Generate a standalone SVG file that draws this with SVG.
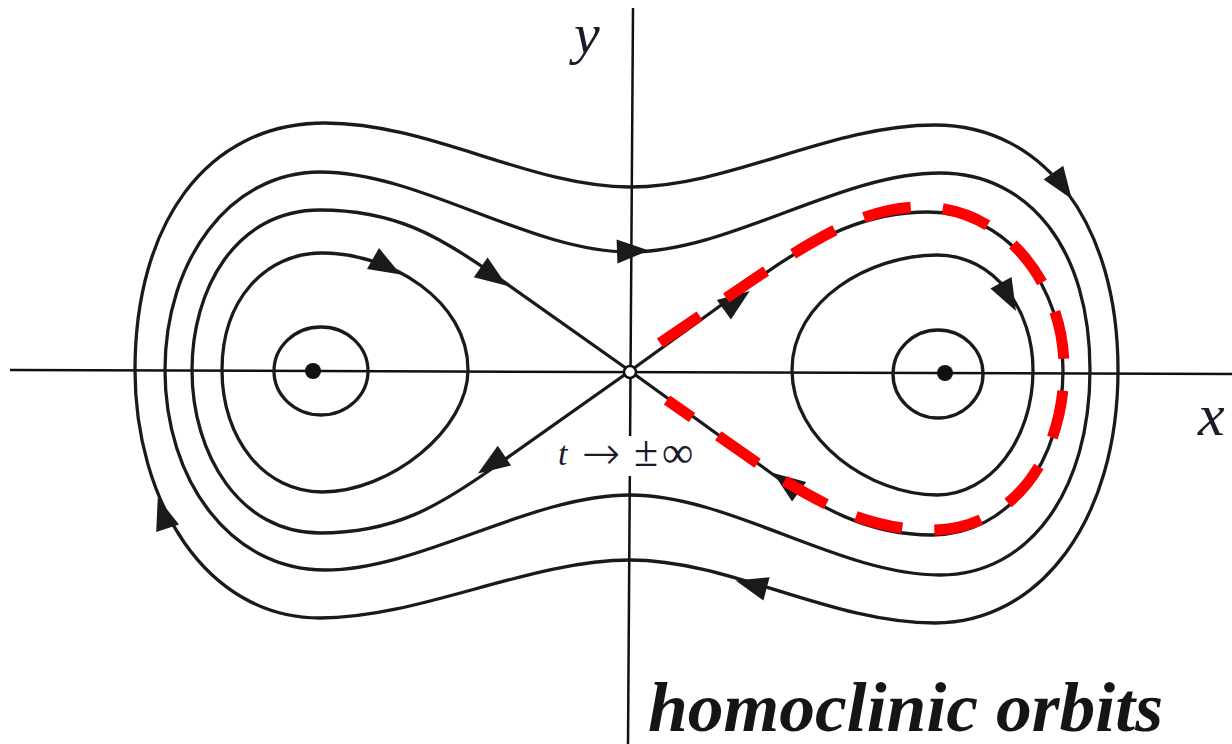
<svg xmlns="http://www.w3.org/2000/svg" xmlns:xlink="http://www.w3.org/1999/xlink" width="1232" height="744" viewBox="0 0 1232 744">
<defs>
<style>
.axis{stroke:#111;stroke-width:2.5;fill:none}
.orbit{stroke:#1a1a1a;stroke-width:3.3;fill:none}
.ah{fill:#1a1a1a}
.red{stroke:#ff0000;stroke-width:11;fill:none;stroke-dasharray:48 32}
.math{font-family:"Liberation Serif","DejaVu Serif",serif;fill:#1a1a2a}
.title{font-family:"Liberation Serif","Times New Roman",serif;font-style:italic;font-weight:bold;fill:#151515}
</style>
<path id="arrowhead" d="M 17 0 L -15 -12 L -15 12 Z"/>
</defs>
<rect width="1232" height="744" fill="#ffffff"/>
<g id="axes">
<line class="axis" x1="10" y1="370" x2="1232" y2="374"/>
<line class="axis" x1="633" y1="8" x2="628" y2="744"/>
</g>
<g id="connectors">
<path id="orbit-outer" class="orbit" d="M 630 187 C 730 187 830 125 935 125 C 1045 125 1118 225 1118 370 C 1118 520 1040 623 935 623 C 830 623 730 560 630 560 C 530 560 420 618 320 618 C 205 618 135 500 135 370 C 135 225 205 123 325 123 C 430 123 530 187 630 187 Z"/>
<path id="orbit-second" class="orbit" d="M 630 252 C 730 252 840 173 940 173 C 1030 173 1090 250 1090 370 C 1090 490 1030 575 940 575 C 840 575 730 495 630 495 C 530 495 420 570 325 570 C 230 570 165 480 165 370 C 165 260 230 172 320 172 C 420 172 530 252 630 252 Z"/>
<path id="separatrix-left" class="orbit" d="M 630 371 L 490 272 C 440 237 395 210 320 210 C 235 210 192 290 192 370 C 192 455 240 533 320 533 C 395 533 440 505 490 470 L 630 371"/>
<path id="separatrix-right" class="orbit" d="M 630 371 L 760 277 C 820 234 870 212 928 212 C 1010 212 1063 290 1063 370 C 1063 460 1010 535 932 535 C 870 535 820 510 760 465 L 630 371"/>
<path id="loop-left" class="orbit" d="M 222 370 C 222 300 265 253 322 253 C 390 253 468 300 468 370 C 468 430 390 492 322 492 C 265 492 222 440 222 370 Z"/>
<path id="loop-right" class="orbit" d="M 792 370 C 792 300 870 255 937 255 C 995 255 1033 310 1033 370 C 1033 440 990 495 937 495 C 870 495 792 440 792 370 Z"/>
</g>
<g id="arrows">
<use xlink:href="#arrowhead" class="ah" transform="translate(386,266) rotate(30)"/>
<use xlink:href="#arrowhead" class="ah" transform="translate(493,276) rotate(35)"/>
<use xlink:href="#arrowhead" class="ah" transform="translate(632,251) rotate(-2)"/>
<use xlink:href="#arrowhead" class="ah" transform="translate(1062,185) rotate(55)"/>
<use xlink:href="#arrowhead" class="ah" transform="translate(1008,296) rotate(62)"/>
<use xlink:href="#arrowhead" class="ah" transform="translate(736,301) rotate(-36)"/>
<use xlink:href="#arrowhead" class="ah" transform="translate(492,464) rotate(146)"/>
<use xlink:href="#arrowhead" class="ah" transform="translate(787,483) rotate(216)"/>
<use xlink:href="#arrowhead" class="ah" transform="translate(752,585) rotate(195)"/>
<use xlink:href="#arrowhead" class="ah" transform="translate(163,514) rotate(-108)"/>
</g>
<g id="homoclinic">
<path class="red" d="M 660 343 L 760 275 C 820 236 870 205 925 207 C 1010 210 1065 290 1064 370 C 1063 460 1010 530 932 530 C 870 530 820 505 760 465 L 667 400"/>
</g>
<g id="saddle">
<circle cx="630" cy="372" r="6" fill="#fff" stroke="#111" stroke-width="2.5"/>
</g>
<g id="center-left">
<ellipse cx="321" cy="371" rx="47" ry="44" class="orbit"/>
<circle cx="313" cy="371" r="8" fill="#111"/>
</g>
<g id="center-right">
<ellipse cx="938" cy="374" rx="45" ry="44" class="orbit"/>
<circle cx="945" cy="373" r="8" fill="#111"/>
</g>
<g id="labels">
<text class="math" x="574" y="53" font-size="58" font-style="italic">y</text>
<text class="math" x="1198" y="435" font-size="60" font-style="italic">x</text>
<rect x="550" y="436" width="158" height="40" fill="#fff"/>
<text class="math" y="465" font-size="34"><tspan x="558" font-style="italic">t</tspan><tspan x="582" y="469" font-size="46" font-weight="200" font-family="DejaVu Sans">→</tspan><tspan x="634" y="466" font-size="44">±</tspan><tspan x="662" y="467" font-size="44" font-weight="200" font-family="DejaVu Sans">∞</tspan></text>
<text class="title" x="648" y="731" font-size="70" textLength="515" lengthAdjust="spacingAndGlyphs">homoclinic orbits</text>
</g>
</svg>
